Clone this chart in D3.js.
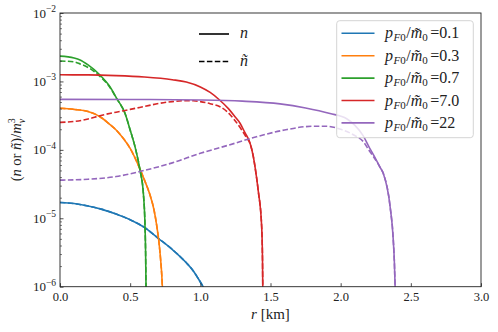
<!DOCTYPE html>
<html><head><meta charset="utf-8">
<script src="https://cdn.jsdelivr.net/npm/d3@7"></script>
<style>body{margin:0;background:#fff}svg{display:block}</style>
</head><body><svg id="c" width="498" height="332"></svg>
<script>
// ---- data ----
const labels = ["0.1", "0.3", "0.7", "7.0", "22"];
const colors = ["#1f77b4", "#ff7f0e", "#2ca02c", "#d62728", "#9467bd"];
const xTicks = [0, 0.5, 1.0, 1.5, 2.0, 2.5, 3.0];
const yTickExp = [-6, -5, -4, -3, -2];

const rBlue = [0, 0.1, 0.2, 0.3, 0.4, 0.5, 0.6, 0.7, 0.8, 0.9, 0.95, 1.0, 1.04];
const nBlue = [1.70e-5, 1.64e-5, 1.51e-5, 1.35e-5, 1.15e-5, 9.5e-6, 7.4e-6, 5.1e-6, 3.5e-6, 2.24e-6, 1.7e-6, 1.17e-6, 0.85e-6];

const rOrange = [0, 0.1, 0.2, 0.285, 0.35, 0.4, 0.45, 0.5, 0.55, 0.6, 0.641, 0.67, 0.689, 0.705, 0.717, 0.725, 0.73, 0.735];
const nOrange = [4.05e-4, 3.9e-4, 3.63e-4, 3.05e-4, 2.4e-4, 1.95e-4, 1.48e-4, 1.05e-4, 6.5e-5, 3.7e-5, 2.2e-5, 1.32e-5, 7.9e-6, 4.5e-6, 2.5e-6, 1.5e-6, 0.95e-6, 0.7e-6];

const rGreen = [0, 0.1, 0.143, 0.2, 0.285, 0.35, 0.404, 0.463, 0.5, 0.54, 0.57, 0.594, 0.606, 0.61, 0.613, 0.615];
const nGreen = [2.34e-3, 2.2e-3, 2.06e-3, 1.74e-3, 1.24e-3, 8.7e-4, 5.66e-4, 3.42e-4, 1.95e-4, 1.0e-4, 5.07e-5, 2.31e-5, 7.5e-6, 3.2e-6, 1.0e-6, 0.8e-6];
const ntGreen = [1.99e-3, 1.93e-3, 1.8e-3, 1.6e-3, 1.18e-3, 8.5e-4, 5.6e-4, 3.42e-4, 1.95e-4, 1.0e-4, 5.07e-5, 2.31e-5, 7.5e-6, 3.2e-6, 1.0e-6, 0.8e-6];

const rRed = [0, 0.2, 0.4, 0.6, 0.8, 0.9, 1.0, 1.07, 1.135, 1.2, 1.247, 1.283, 1.318, 1.354, 1.378, 1.39, 1.413, 1.437, 1.443, 1.445, 1.447];
const nRed = [1.25e-3, 1.245e-3, 1.215e-3, 1.16e-3, 1.06e-3, 9.8e-4, 8.3e-4, 6.9e-4, 5.4e-4, 4.0e-4, 3.05e-4, 2.45e-4, 1.78e-4, 1.26e-4, 7.9e-5, 5.6e-5, 2.5e-5, 7.6e-6, 2.5e-6, 1.0e-6, 0.8e-6];
const rRedT = [0, 0.1, 0.2, 0.285, 0.4, 0.5, 0.6, 0.713, 0.8, 0.88, 0.95, 1.0, 1.07, 1.14, 1.19, 1.235, 1.295, 1.33, 1.354, 1.378, 1.39, 1.413, 1.437, 1.443, 1.445, 1.447];
const ntRed = [2.52e-4, 2.6e-4, 2.82e-4, 3.16e-4, 3.55e-4, 3.9e-4, 4.3e-4, 4.8e-4, 5.07e-4, 5.22e-4, 5.21e-4, 5.07e-4, 4.73e-4, 4.27e-4, 3.63e-4, 2.88e-4, 1.95e-4, 1.5e-4, 1.24e-4, 7.9e-5, 5.6e-5, 2.5e-5, 7.6e-6, 2.5e-6, 1.0e-6, 0.8e-6];

const rPurple = [0, 0.5, 1.0, 1.3, 1.568, 1.75, 1.924, 2.043, 2.1, 2.161, 2.2, 2.233, 2.28, 2.304, 2.352, 2.375, 2.383, 2.388, 2.39];
const nPurple = [5.47e-4, 5.45e-4, 5.35e-4, 5.15e-4, 4.7e-4, 4.1e-4, 3.4e-4, 2.85e-4, 2.3e-4, 1.6e-4, 1.12e-4, 8.5e-5, 5.6e-5, 4.5e-5, 1.5e-5, 4.8e-6, 2.2e-6, 1.0e-6, 0.8e-6];
const rPurpleT = [0, 0.2, 0.4, 0.6, 0.8, 1.0, 1.2, 1.4, 1.6, 1.8, 1.9, 2.0, 2.1, 2.161, 2.2, 2.233, 2.28, 2.304, 2.352, 2.375, 2.383, 2.388, 2.39];
const ntPurple = [3.61e-5, 3.72e-5, 4.07e-5, 5.0e-5, 6.45e-5, 8.9e-5, 1.17e-4, 1.55e-4, 1.95e-4, 2.21e-4, 2.21e-4, 2.0e-4, 1.62e-4, 1.32e-4, 1.0e-4, 8.0e-5, 5.6e-5, 4.5e-5, 1.5e-5, 4.8e-6, 2.2e-6, 1.0e-6, 0.8e-6];

const series = [
  {r: rBlue, n: nBlue, rt: rBlue, nt: nBlue},
  {r: rOrange, n: nOrange, rt: rOrange, nt: nOrange},
  {r: rGreen, n: nGreen, rt: rGreen, nt: ntGreen},
  {r: rRed, n: nRed, rt: rRedT, nt: ntRed},
  {r: rPurple, n: nPurple, rt: rPurpleT, nt: ntPurple}
];

// ---- layout ----
const FONT = '"Liberation Serif", "Times New Roman", serif';
const INK = "#222";
const L = 60, R = 481, T = 13, B = 286.7;
const svg = d3.select("#c");
const x = d3.scaleLinear([0, 3], [L, R]);
const y = d3.scaleLog([1e-6, 1e-2], [B, T]);

svg.append("defs").append("clipPath").attr("id", "clip")
  .append("rect").attr("x", L).attr("y", T).attr("width", R - L).attr("height", B - T);

const line = d3.line().x(d => x(d[0])).y(d => y(d[1])).curve(d3.curveMonotoneX);
const g = svg.append("g").attr("clip-path", "url(#clip)");
series.forEach((s, i) => {
  const solid = s.r.map((r, k) => [r, s.n[k]]);
  const dashed = s.rt.map((r, k) => [r, s.nt[k]]);
  g.append("path").attr("d", line(solid)).attr("fill", "none")
    .attr("stroke", colors[i]).attr("stroke-width", 1.6);
  g.append("path").attr("d", line(dashed)).attr("fill", "none")
    .attr("stroke", colors[i]).attr("stroke-width", 1.6).attr("stroke-dasharray", "5.5,2.4");
});

// axes
const xAxis = d3.axisBottom(x).tickValues(xTicks).tickFormat(d3.format(".1f"))
  .tickSizeInner(-3.5).tickSizeOuter(0).tickPadding(5);
const gx = svg.append("g").attr("transform", `translate(0,${B})`).call(xAxis);
gx.select(".domain").remove();
gx.selectAll("text").style("font-family", FONT).style("font-size", "12.5px").attr("fill", INK);
gx.selectAll("line").attr("stroke", INK).attr("stroke-width", 0.8);

const majors = yTickExp.map(e => Math.pow(10, e));
const gy = svg.append("g").attr("transform", `translate(${L},0)`)
  .call(d3.axisLeft(y).tickValues(majors).tickFormat("").tickSizeInner(-3.5).tickSizeOuter(0));
gy.select(".domain").remove();
gy.selectAll("line").attr("stroke", INK).attr("stroke-width", 0.8);
const minors = [];
yTickExp.slice(0, -1).forEach(e => { for (let m = 2; m <= 9; m++) minors.push(m * Math.pow(10, e)); });
const gym = svg.append("g").attr("transform", `translate(${L},0)`)
  .call(d3.axisLeft(y).tickValues(minors).tickFormat("").tickSizeInner(-2).tickSizeOuter(0));
gym.select(".domain").remove();
gym.selectAll("line").attr("stroke", INK).attr("stroke-width", 0.6);

yTickExp.forEach(e => {
  const t = svg.append("text").attr("x", 56).attr("y", y(Math.pow(10, e)) + 4.5)
    .attr("text-anchor", "end").style("font-family", FONT).style("font-size", "13px").attr("fill", INK);
  t.append("tspan").text("10");
  t.append("tspan").attr("dy", -5.5).style("font-size", "9.5px").text("\u2212" + Math.abs(e));
});

svg.append("rect").attr("x", L).attr("y", T).attr("width", R - L).attr("height", B - T)
  .attr("fill", "none").attr("stroke", INK).attr("stroke-width", 0.9);

// axis labels
const xl = svg.append("text").attr("x", (L + R) / 2).attr("y", 319).attr("text-anchor", "middle")
  .style("font-family", FONT).style("font-size", "15px").attr("fill", INK);
xl.append("tspan").style("font-style", "italic").text("r");
xl.append("tspan").text(" [km]");

const yl = svg.append("text").attr("transform", `translate(21,${(T + B) / 2}) rotate(-90)`)
  .attr("text-anchor", "middle").style("font-family", FONT).style("font-size", "14.5px").attr("fill", INK);
yl.append("tspan").text("(");
yl.append("tspan").style("font-style", "italic").text("n");
yl.append("tspan").text(" or ");
yl.append("tspan").style("font-style", "italic").text("ñ");
yl.append("tspan").text(")/");
yl.append("tspan").style("font-style", "italic").text("m");
yl.append("tspan").style("font-size", "10px").attr("dy", -6.5).text("3");
yl.append("tspan").style("font-size", "10px").style("font-style", "italic").attr("dx", -5).attr("dy", 10).text("ν");

// n / ñ legend
const lg = svg.append("g");
lg.append("line").attr("x1", 199).attr("x2", 229).attr("y1", 34).attr("y2", 34).attr("stroke", "#000").attr("stroke-width", 1.6);
lg.append("line").attr("x1", 199).attr("x2", 229).attr("y1", 61.5).attr("y2", 61.5).attr("stroke", "#000").attr("stroke-width", 1.6).attr("stroke-dasharray", "5.5,2.4");
lg.append("text").attr("x", 240).attr("y", 38).style("font-family", FONT).style("font-size", "16px").style("font-style", "italic").attr("fill", INK).text("n");
lg.append("text").attr("x", 240).attr("y", 65.5).style("font-family", FONT).style("font-size", "16px").style("font-style", "italic").attr("fill", INK).text("ñ");

// series legend
const leg = svg.append("g");
leg.append("rect").attr("x", 336.7).attr("y", 20.7).attr("width", 136.6).attr("height", 117)
  .attr("rx", 3).attr("fill", "#fff").attr("fill-opacity", 0.8).attr("stroke", "#d0d0d0").attr("stroke-width", 0.9);
labels.forEach((lab, i) => {
  const yy = 33.3 + i * 22.4;
  leg.append("line").attr("x1", 341.5).attr("x2", 374.5).attr("y1", yy).attr("y2", yy)
    .attr("stroke", colors[i]).attr("stroke-width", 1.6);
  const t = leg.append("text").attr("x", 385).attr("y", yy + 5).style("font-family", FONT)
    .style("font-size", "16px").attr("fill", INK);
  t.append("tspan").style("font-style", "italic").text("p");
  t.append("tspan").style("font-size", "11px").attr("dy", 3).attr("dx", 0.5).style("font-style", "italic").text("F");
  t.append("tspan").style("font-size", "11px").text("0");
  t.append("tspan").attr("dy", -3).attr("dx", 0.5).text("/");
  t.append("tspan").style("font-style", "italic").text("m\u0303");
  t.append("tspan").style("font-size", "11px").attr("dy", 3).text("0");
  t.append("tspan").attr("dy", -3).attr("dx", 2.5).text("=" + lab);
});
</script></body></html>
